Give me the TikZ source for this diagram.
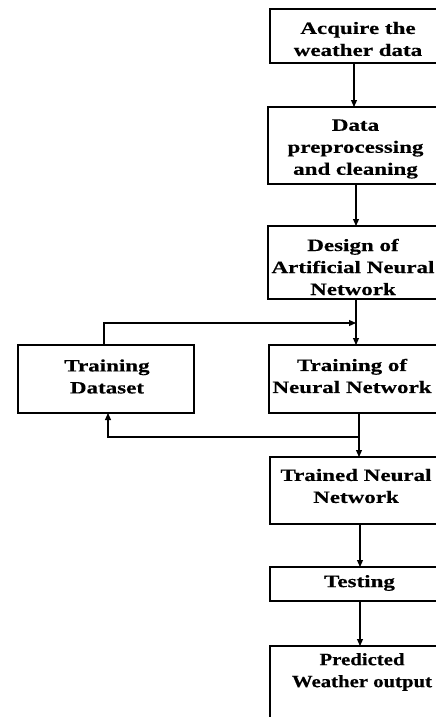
\documentclass[tikz,border=0pt]{standalone}
\usepackage{fontspec}
\setmainfont{Liberation Serif}
\newfontfamily\widebf{Liberation Serif Bold}[FakeStretch=1.33,FakeBold=0.4]
\newfontfamily\narrowbf{Liberation Serif Bold}[FakeStretch=1.2,FakeBold=0.4]
\usetikzlibrary{arrows.meta}
\begin{document}
\begin{tikzpicture}[x=1pt,y=-1pt,
  box/.style={draw, line width=1.6pt, inner sep=0pt, rectangle},
  lbl/.style={font=\widebf\fontsize{17.3}{22}\selectfont, align=center, inner sep=0pt, text=black},
  con/.style={line width=1.1pt, -{Triangle[length=7pt,width=6pt]}},
  ln/.style={line width=1.1pt}]
\useasboundingbox (0,0) rectangle (436,717);
% boxes (right column runs off the right edge)
\node[box, minimum width=182pt, minimum height=54pt] (b1) at (361,36) {};
\node[box, minimum width=184pt, minimum height=77pt] (b2) at (360,145.5) {};
\node[box, minimum width=184pt, minimum height=73pt] (b3) at (360,262.5) {};
\node[box, minimum width=183pt, minimum height=68pt] (b4) at (360.5,379) {};
\node[box, minimum width=176pt, minimum height=68pt] (td) at (106,379) {};
\node[box, minimum width=182pt, minimum height=67pt] (b5) at (361,490.5) {};
\node[box, minimum width=182pt, minimum height=34pt] (b6) at (361,584) {};
\node[box, minimum width=182pt, minimum height=90pt] (b7) at (361,691) {};
% texts
\node[lbl] (t1) at (358,39) {Acquire the\\weather data};
\node[lbl] (t2) at (355.5,149) {Data\\preprocessing\\and cleaning};
\node[lbl] (t3) at (353,267) {Design of\\Artificial Neural\\Network};
\node[lbl] (t4) at (352,376) {Training of\\Neural Network};
\node[lbl] (ttd) at (107,376.5) {Training\\Dataset};
\node[lbl] (t5) at (356,486) {Trained Neural\\Network};
\node[lbl] (t6) at (359.5,583) {Testing};
\node[lbl, font=\narrowbf\fontsize{17.3}{22}\selectfont] (t7) at (362,672) {Predicted\\Weather output};
% junctions
\coordinate (j1) at (356,323);
\coordinate (j2) at (359,437);
% main flow
\draw[con] (354,63) -- (354,107);
\draw[con] (356,184) -- (356,226);
\draw[ln] (356,299) -- (j1);
\draw[con] (j1) -- (356,345);
\draw[ln] (359,413) -- (j2);
\draw[con] (j2) -- (359,457);
\draw[con] (360,524) -- (360,567);
\draw[con] (360,601) -- (360,646);
% feedback loop
\draw[con] (104,345) -- (104,323) -- (j1);
\draw[con] (j2) -- (108,437) -- (108,413);
\end{tikzpicture}
\end{document}
